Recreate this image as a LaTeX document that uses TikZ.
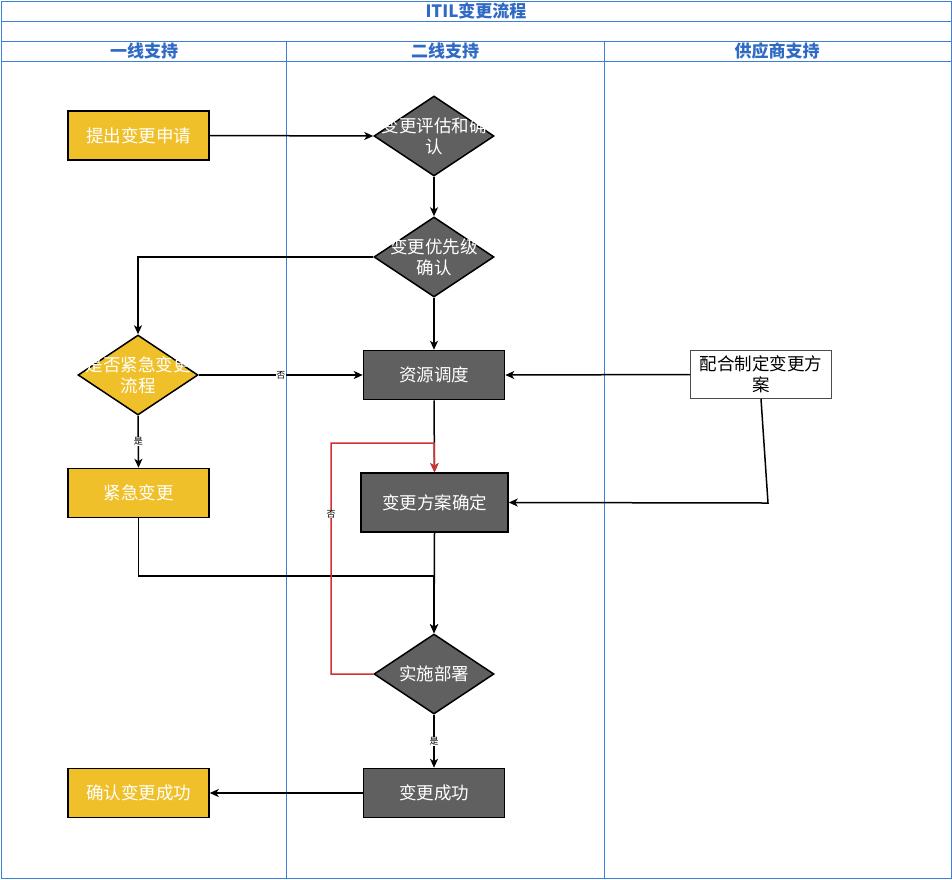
\documentclass[tikz,border=0pt]{standalone}
\usepackage{fontspec}
\setmainfont{Noto Sans CJK SC}
\usetikzlibrary{shapes.geometric,arrows.meta}
\definecolor{gold}{HTML}{F0C02A}
\definecolor{dgray}{HTML}{606060}
\definecolor{lanec}{HTML}{3D7FD9}
\definecolor{ttl}{HTML}{2F6BC4}
\definecolor{redl}{HTML}{D33131}
\newcommand\nfont{\fontsize{17.5}{21}\selectfont}
\newcommand\hfont{\fontsize{17}{18}\selectfont\bfseries}
\newcommand\lfont{\fontsize{9}{10}\selectfont}
\tikzset{
  box/.style={draw=black, line width=1.5pt, minimum width=141pt, minimum height=49pt, inner sep=0pt, text=white, font=\nfont},
  goldbox/.style={box, fill=gold},
  graybox/.style={box, fill=dgray},
  dia/.style={diamond, draw=black, line width=1.5pt, minimum width=120pt, minimum height=80pt, inner sep=0pt},
  golddia/.style={dia, fill=gold},
  graydia/.style={dia, fill=dgray},
  wtxt/.style={text=white, font=\nfont, align=center, inner sep=0pt},
  hdr/.style={text=ttl, font=\hfont, inner sep=0pt},
  lane/.style={draw=lanec, line width=1pt},
  arr/.style={draw=black, line width=1.5pt, -{Stealth[length=9pt, width=8pt, inset=2.5pt]}},
  redarr/.style={draw=redl, line width=1.5pt, -{Stealth[length=9pt, width=8pt, inset=2.5pt]}},
  elab/.style={fill=white, font=\lfont, inner sep=0.5pt, text=black}
}
\begin{document}
\begin{tikzpicture}[x=1pt, y=-1pt]
\useasboundingbox (0,0) rectangle (952,879);
% swimlanes
\draw[lane] (1,1) rectangle (951,878);
\draw[lane] (1,21) -- (951,21);
\draw[lane] (1,41) -- (951,41);
\draw[lane] (1,61) -- (951,61);
\draw[lane] (286,41) -- (286,878);
\draw[lane] (604,41) -- (604,878);
\node[hdr] (title) at (476,11) {ITIL变更流程};
\node[hdr] (h1) at (144,51) {一线支持};
\node[hdr] (h2) at (445,51) {二线支持};
\node[hdr] (h3) at (777,51) {供应商支持};
% nodes
\node[goldbox] (req) at (138.5,135.5) {提出变更申请};
\node[graydia] (d1) at (434,136) {};
\node[wtxt] (d1t) at (d1) {变更评估和确\\认};
\node[graydia] (d2) at (434,257) {};
\node[wtxt] (d2t) at (d2) {变更优先级\\确认};
\node[golddia] (d3) at (138,375) {};
\node[wtxt] (d3t) at (d3) {是否紧急变更\\流程};
\node[graybox] (res) at (434,375) {资源调度};
\node[box, fill=white, draw=black!70, line width=1pt, text=black, minimum width=141pt, minimum height=48pt, align=center] (sup) at (761,374.5) {配合制定变更方\\案};
\node[goldbox] (emg) at (138.5,493) {紧急变更};
\node[graybox, minimum width=147pt, minimum height=59pt] (plan) at (434.5,502.5) {变更方案确定};
\node[graydia] (dep) at (434,674) {};
\node[wtxt] (dept) at (dep) {实施部署};
\node[graybox] (ok) at (434,793) {变更成功};
\node[goldbox] (conf) at (138.5,793) {确认变更成功};
% waypoints
\coordinate (w1) at (768,503);
\coordinate (m1) at (434,576);
\coordinate (r1) at (331,443);
\coordinate (r2) at (434,443);
% edges
\draw[arr] (req.east) -- (d1.west);
\draw[arr] (d1.south) -- (d2.north);
\draw[arr] (d2.west) -| (d3.north);
\draw[arr] (d2.south) -- (res.north);
\draw[arr] (d3.east) -- node[elab, pos=0.5] (l1) {否} (res.west);
\draw[arr] (d3.south) -- node[elab, pos=0.5] (l2) {是} (emg.north);
\draw[arr] (sup.west) -- (res.east);
\draw[arr] (sup.south) -- (w1) -- (plan.east);
\draw[arr] (res.south) -- (plan.north);
\draw[arr] (plan.south) -- (dep.north);
\draw[arr] (emg.south) |- (m1) -- (dep.north);
\draw[arr] (dep.south) -- node[elab, pos=0.5] (l3) {是} (ok.north);
\draw[arr] (ok.west) -- (conf.east);
\draw[redarr] (dep.west) -| (r1) -- (r2) -- (plan.north);
\node[elab] (l4) at (331,514) {否};
\end{tikzpicture}
\end{document}
